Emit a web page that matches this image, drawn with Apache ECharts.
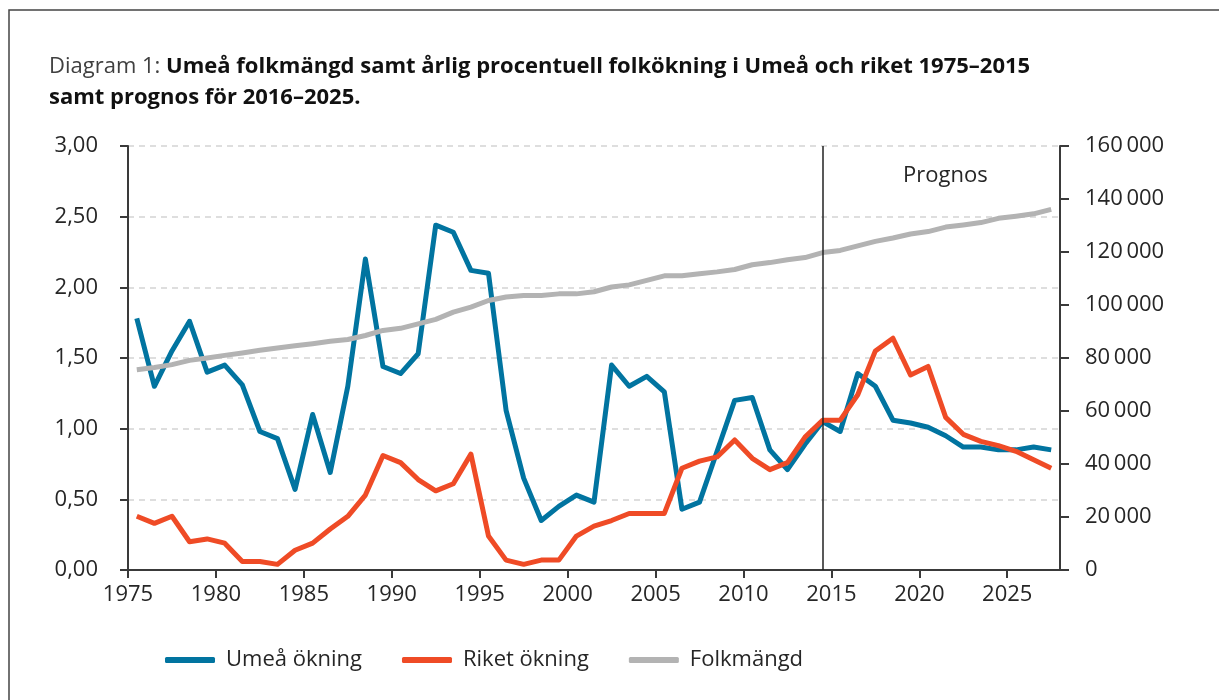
<!DOCTYPE html>
<html>
<head>
<meta charset="utf-8">
<title>Umeå folkmängd</title>
<script src="https://cdn.jsdelivr.net/npm/echarts@6/dist/echarts.min.js"></script>
<style>
  html, body { margin: 0; padding: 0; background: #fff; }
  #chart { width: 1219px; height: 700px; }
</style>
</head>
<body>
<div id="chart"></div>
<script>
// år (kategorier för linjerna)
var years = ['1975','1976','1977','1978','1979','1980','1981','1982','1983','1984',
  '1985','1986','1987','1988','1989','1990','1991','1992','1993','1994',
  '1995','1996','1997','1998','1999','2000','2001','2002','2003','2004',
  '2005','2006','2007','2008','2009','2010','2011','2012','2013','2014',
  '2015','2016','2017','2018','2019','2020','2021','2022','2023','2024',
  '2025','2026','2027'];
// etiketter på x-axeln
var xTickYears = [1975, 1980, 1985, 1990, 1995, 2000, 2005, 2010, 2015, 2020, 2025];
var prognosStart = '2014';

// årlig procentuell ökning, Umeå
var umeaOkning = [1.78, 1.30, 1.55, 1.76, 1.40, 1.45, 1.31, 0.98, 0.93, 0.57,
  1.10, 0.69, 1.30, 2.20, 1.44, 1.39, 1.53, 2.44, 2.39, 2.12,
  2.10, 1.13, 0.65, 0.35, 0.45, 0.53, 0.48, 1.45, 1.30, 1.37,
  1.26, 0.43, 0.48, 0.84, 1.20, 1.22, 0.85, 0.71, 0.89, 1.05,
  0.98, 1.39, 1.30, 1.06, 1.04, 1.01, 0.95, 0.87, 0.87, 0.85,
  0.85, 0.87, 0.85];
// årlig procentuell ökning, riket
var riketOkning = [0.38, 0.33, 0.38, 0.20, 0.22, 0.19, 0.06, 0.06, 0.04, 0.14,
  0.19, 0.29, 0.38, 0.53, 0.81, 0.76, 0.64, 0.56, 0.61, 0.82,
  0.24, 0.07, 0.04, 0.07, 0.07, 0.24, 0.31, 0.35, 0.40, 0.40,
  0.40, 0.72, 0.77, 0.80, 0.92, 0.79, 0.71, 0.76, 0.94, 1.06,
  1.06, 1.24, 1.55, 1.64, 1.38, 1.44, 1.08, 0.96, 0.91, 0.88,
  0.84, 0.78, 0.72];
// folkmängd i Umeå
var folkmangd = [75600, 76400, 77500, 79100, 80000, 81000, 81900, 82900, 83800, 84600,
  85400, 86300, 87000, 88500, 90400, 91200, 92900, 94600, 97300, 99200,
  101700, 103000, 103600, 103600, 104200, 104200, 105000, 106800, 107600, 109300,
  111000, 111000, 111800, 112500, 113400, 115200, 116000, 117100, 117900, 119800,
  120600, 122300, 124000, 125300, 126800, 127700, 129400, 130200, 131100, 132700,
  133500, 134400, 136100];

var axisColor = '#3a3a3a';
var textColor = '#262626';
var fontFam = '"Open Sans", "Noto Sans", sans-serif';

var chart = echarts.init(document.getElementById('chart'));
chart.setOption({
  animation: false,
  textStyle: { fontFamily: fontFam },
  title: {
    left: 44,
    top: 46,
    text: '{a|Diagram 1: }{b|Umeå folkmängd samt årlig procentuell folkökning i Umeå och riket 1975–2015}\n{b|samt prognos för 2016–2025.}',
    textStyle: {
      rich: {
        a: { fontSize: 22, fontWeight: 'normal', color: '#404040', fontFamily: fontFam, lineHeight: 31 },
        b: { fontSize: 22, fontWeight: 'bold', color: '#111', fontFamily: fontFam, lineHeight: 31 }
      }
    }
  },
  graphic: [
    {
      type: 'rect',
      silent: true,
      shape: { x: 9, y: 10, width: 1400, height: 900 },
      style: { fill: 'none', stroke: '#444', lineWidth: 1.5 }
    },
    {
      type: 'text',
      left: 903,
      top: 165,
      style: { text: 'Prognos', fontSize: 22, fill: textColor, fontFamily: fontFam }
    }
  ],
  legend: {
    left: 160,
    top: 644,
    icon: 'roundRect',
    itemWidth: 50,
    itemHeight: 6,
    itemGap: 40,
    textStyle: { fontSize: 22, color: textColor, padding: [0, 0, 0, 6] },
    data: ['Umeå ökning', 'Riket ökning', 'Folkmängd']
  },
  grid: { left: 128, right: 159, top: 146, bottom: 130 },
  xAxis: [
    {
      type: 'category',
      data: years,
      boundaryGap: true,
      show: false
    },
    {
      type: 'value',
      min: 1975,
      max: 2028,
      position: 'bottom',
      axisLine: { show: true, lineStyle: { color: axisColor, width: 2 } },
      axisTick: { show: true, length: 8, lineStyle: { color: axisColor, width: 2 }, customValues: xTickYears },
      axisLabel: { fontSize: 22, color: textColor, margin: 14, customValues: xTickYears, formatter: function (v) { return String(v); } },
      splitLine: { show: false }
    }
  ],
  yAxis: [
    {
      type: 'value',
      min: 0,
      max: 3,
      interval: 0.5,
      position: 'left',
      axisLine: { show: true, lineStyle: { color: axisColor, width: 2 } },
      axisTick: { show: true, length: 8, lineStyle: { color: axisColor, width: 2 } },
      axisLabel: {
        fontSize: 22, color: textColor, margin: 30,
        formatter: function (v) { return v.toFixed(2).replace('.', ','); }
      },
      splitLine: { show: true, lineStyle: { color: '#d4d4d4', type: [6, 5], width: 1.5 } }
    },
    {
      type: 'value',
      min: 0,
      max: 160000,
      interval: 20000,
      position: 'right',
      axisLine: { show: true, lineStyle: { color: axisColor, width: 2 } },
      axisTick: { show: true, length: 9, lineStyle: { color: axisColor, width: 2 } },
      axisLabel: {
        fontSize: 22, color: textColor, margin: 25,
        formatter: function (v) { return String(v).replace(/\B(?=(\d{3})+(?!\d))/g, '\u2009'); }
      },
      splitLine: { show: false }
    }
  ],
  series: [
    {
      name: 'Umeå ökning',
      type: 'line',
      xAxisIndex: 0,
      yAxisIndex: 0,
      data: umeaOkning,
      symbol: 'none',
      color: '#0174a0',
      lineStyle: { width: 5, color: '#0174a0', join: 'round' },
      markLine: {
        silent: true,
        symbol: 'none',
        label: { show: false },
        lineStyle: { color: '#222', width: 1.5, type: 'solid' },
        data: [{ xAxis: prognosStart }]
      }
    },
    {
      name: 'Riket ökning',
      type: 'line',
      xAxisIndex: 0,
      yAxisIndex: 0,
      data: riketOkning,
      symbol: 'none',
      color: '#ef4b26',
      lineStyle: { width: 5, color: '#ef4b26', join: 'round' }
    },
    {
      name: 'Folkmängd',
      type: 'line',
      xAxisIndex: 0,
      yAxisIndex: 1,
      data: folkmangd,
      symbol: 'none',
      color: '#b3b3b3',
      lineStyle: { width: 5, color: '#b3b3b3', join: 'round' }
    }
  ]
});
</script>
</body>
</html>
